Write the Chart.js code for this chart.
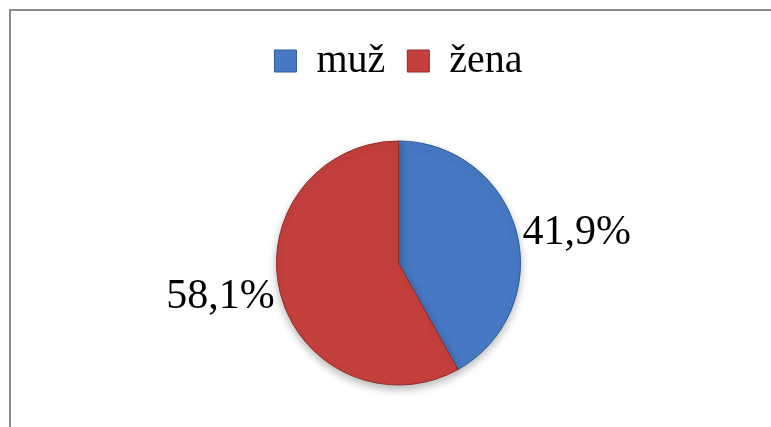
<!DOCTYPE html>
<html>
<head>
<meta charset="utf-8">
<script src="https://cdn.jsdelivr.net/npm/chart.js@4.4.1/dist/chart.umd.min.js"></script>
<style>
    html, body { margin: 0; padding: 0; background: #fff; }
    #wrap { position: relative; width: 771px; height: 427px; overflow: hidden; }
    #frame {
        position: absolute; left: 9px; top: 9px; right: -10px; bottom: -10px;
        border-left: 2px solid #8c8c8c; border-top: 2px solid #8c8c8c;
    }
    #chart { position: absolute; left: 0; top: 0; }
</style>
</head>
<body>
<div id="wrap">
    <div id="frame"></div>
    <!-- canvas runs a little past the bottom edge; the wrapper clips it -->
    <canvas id="chart" width="771" height="460"></canvas>
</div>
<script>
// Chart data
const categories = ['muž', 'žena'];
const shares = [41.9, 58.1];

// Colours: solid (legend), gradient centre, gradient rim, outline
const solidColors = ['#4779c4', '#c4403c'];
const innerColors = ['#5d95dc', '#d8514c'];
const outerColors = ['#3466ad', '#aa322e'];
const edgeColors = ['#2c5a98', '#8f2a27'];

const serif = "'Liberation Serif', 'Times New Roman', serif";

/**
 * Radial shading so the slices look a bit like the Office bevel
 */
function sliceGradient(context) {
    const i = context.dataIndex;
    const chart = context.chart;
    const arc = chart.getDatasetMeta(0).data[i];
    if (!arc || !arc.outerRadius) return solidColors[i];
    const g = chart.ctx.createRadialGradient(arc.x, arc.y, 0, arc.x, arc.y, arc.outerRadius);
    g.addColorStop(0, innerColors[i]);
    g.addColorStop(0.8, innerColors[i]);
    g.addColorStop(1, outerColors[i]);
    return g;
}

// soft shadow under the pie
const shadowPlugin = {
    id: 'pieShadow',
    beforeDatasetsDraw(chart) {
        const ctx = chart.ctx;
        ctx.save();
        ctx.shadowColor = 'rgba(0,0,0,0.28)';
        ctx.shadowBlur = 9;
        ctx.shadowOffsetY = 4;
    },
    afterDatasetsDraw(chart) {
        chart.ctx.restore();
    }
};

// percentage labels outside each slice
const outsideLabels = {
    id: 'outsideLabels',
    afterDraw(chart) {
        const ctx = chart.ctx;
        const meta = chart.getDatasetMeta(0);
        ctx.save();
        ctx.font = '42px ' + serif;
        ctx.fillStyle = '#000';
        ctx.textBaseline = 'middle';
        meta.data.forEach((arc, i) => {
            const mid = (arc.startAngle + arc.endAngle) / 2;
            const r = arc.outerRadius + 6;
            const x = arc.x + Math.cos(mid) * r;
            const y = arc.y + Math.sin(mid) * r + 2;
            ctx.textAlign = Math.cos(mid) >= 0 ? 'left' : 'right';
            ctx.fillText(shares[i].toFixed(1).replace('.', ',') + '%', x, y);
        });
        ctx.restore();
    }
};

new Chart(document.getElementById('chart'), {
    type: 'pie',
    data: {
        labels: categories,
        datasets: [{
            data: shares,
            backgroundColor: sliceGradient,
            borderColor: edgeColors,
            borderWidth: 1
        }]
    },
    options: {
        responsive: false,
        animation: false,
        radius: 122,
        layout: {
            padding: { left: 26, right: 0, top: 19, bottom: 25 }
        },
        plugins: {
            tooltip: { enabled: false },
            legend: {
                position: 'top',
                labels: {
                    boxWidth: 22,
                    boxHeight: 22,
                    padding: 22,
                    color: '#000',
                    font: { family: serif, size: 40 },
                    generateLabels(chart) {
                        return categories.map((c, i) => ({
                            text: c,
                            fillStyle: solidColors[i],
                            strokeStyle: edgeColors[i],
                            lineWidth: 1,
                            hidden: false,
                            index: i
                        }));
                    }
                }
            }
        }
    },
    plugins: [shadowPlugin, outsideLabels]
});
</script>
</body>
</html>
